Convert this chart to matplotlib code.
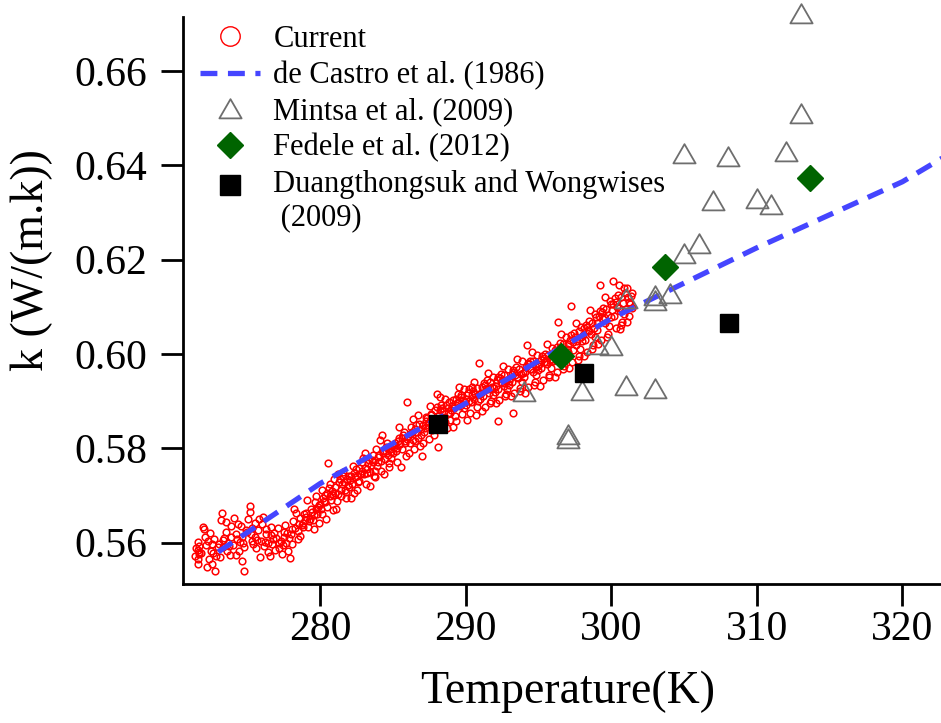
import matplotlib
matplotlib.use("Agg")
import matplotlib.pyplot as plt
from matplotlib.lines import Line2D
from matplotlib.path import Path
from matplotlib.legend_handler import HandlerLine2D

plt.rcParams['font.family'] = ['Liberation Serif', 'DejaVu Serif']

# ---------------- data ----------------
current_T = [
    271.6, 271.6, 271.65, 271.6, 271.65, 271.6, 271.4, 271.45, 271.95, 272.0, 271.8,
    272.1, 272.3, 272.5, 272.6, 272.8, 272.55, 272.85, 272.2, 272.4, 272.7, 272.95, 272.35,
    273.05, 273.25, 273.2, 273.4, 273.6, 273.8, 273.5, 273.3, 273.7, 273.9, 273.15, 273.55, 273.85,
    274.0, 274.2, 274.35, 274.5, 274.6, 274.75, 274.9, 274.1, 274.45, 274.65, 274.8, 274.25, 274.55,
    275.0, 275.15, 275.2, 275.35, 275.5, 275.6, 275.75, 275.9, 275.05, 275.4, 275.55, 275.8, 275.3, 275.95,
    276.0, 276.15, 276.3, 276.45, 276.6, 276.75, 276.9, 276.1, 276.4, 276.55, 276.85, 276.25, 276.7,
    277.0, 277.2, 277.35, 277.5, 277.65, 277.8, 277.95, 277.1, 277.45, 277.6, 277.85, 277.3, 277.75,
    278.0, 278.15, 278.3, 278.45, 278.6, 278.75, 278.9, 278.05, 278.35, 278.5, 278.8, 278.2, 278.65, 278.95,
    279.0, 279.2, 279.35, 279.5, 279.65, 279.8, 279.95, 279.1, 279.45, 279.6, 279.85, 279.3, 279.75,
    280.0, 280.15, 280.3, 280.45, 280.55, 280.6, 280.75, 280.9, 280.1, 280.4, 280.7, 280.85, 280.25, 280.95,
    281.0, 281.15, 281.3, 281.45, 281.6, 281.75, 281.9, 281.1, 281.4, 281.55, 281.85, 281.25, 281.7,
    282.0, 282.15, 282.3, 282.45, 282.6, 282.75, 282.9, 282.1, 282.4, 282.55, 282.85, 282.25, 282.7, 282.95,
    283.0, 283.15, 283.3, 283.45, 283.6, 283.75, 283.9, 283.1, 283.4, 283.55, 283.85, 283.25, 283.7,
    284.0, 284.15, 284.3, 284.45, 284.6, 284.75, 284.9, 284.1, 284.4, 284.55, 284.85, 284.25, 284.7, 284.95,
    285.0, 285.15, 285.3, 285.45, 285.6, 285.75, 285.9, 285.1, 285.4, 285.55, 285.85, 285.25, 285.7,
    286.0, 286.15, 286.3, 286.45, 286.6, 286.75, 286.9, 286.1, 286.4, 286.55, 286.85, 286.25, 286.7, 286.95, 286.05,
    287.0, 287.15, 287.3, 287.45, 287.6, 287.75, 287.9, 287.1, 287.4, 287.55, 287.85, 287.25, 287.7, 287.95,
    288.0, 288.15, 288.3, 288.45, 288.6, 288.75, 288.9, 288.1, 288.4, 288.55, 288.85, 288.25, 288.7, 288.05,
    289.0, 289.15, 289.3, 289.45, 289.6, 289.75, 289.9, 289.1, 289.4, 289.55, 289.85, 289.25, 289.7, 289.95,
    290.0, 290.15, 290.3, 290.45, 290.6, 290.75, 290.9, 290.1, 290.4, 290.55, 290.85, 290.25, 290.7, 290.95, 290.35,
    291.0, 291.15, 291.3, 291.45, 291.6, 291.75, 291.9, 291.1, 291.4, 291.55, 291.85, 291.25, 291.7, 291.95,
    292.0, 292.15, 292.3, 292.45, 292.6, 292.75, 292.9, 292.1, 292.4, 292.55, 292.85, 292.25, 292.7, 292.95, 292.24,
    293.0, 293.15, 293.3, 293.45, 293.6, 293.75, 293.9, 293.1, 293.4, 293.55, 293.85, 293.25, 293.7, 293.95, 293.27,
    294.0, 294.15, 294.3, 294.45, 294.6, 294.75, 294.9, 294.1, 294.4, 294.55, 294.85, 294.25, 294.7, 294.95, 294.2,
    295.0, 295.15, 295.3, 295.45, 295.6, 295.75, 295.9, 295.1, 295.4, 295.55, 295.85, 295.25, 295.7, 295.95,
    296.0, 296.15, 296.3, 296.45, 296.6, 296.75, 296.9, 296.1, 296.4, 296.55, 296.85, 296.25, 296.7, 296.95, 296.36,
    297.0, 297.15, 297.3, 297.45, 297.6, 297.75, 297.9, 297.1, 297.4, 297.55, 297.85, 297.25, 297.7, 297.95, 297.2,
    298.0, 298.15, 298.3, 298.45, 298.6, 298.75, 298.9, 298.1, 298.4, 298.55, 298.85, 298.25, 298.7, 298.95,
    299.0, 299.15, 299.3, 299.45, 299.6, 299.75, 299.9, 299.1, 299.4, 299.55, 299.85, 299.25, 299.7, 299.95, 299.2,
    300.0, 300.15, 300.3, 300.45, 300.6, 300.75, 300.9, 300.1, 300.4, 300.55, 300.85, 300.25, 300.7, 300.95, 300.6,
    301.0, 301.15, 301.3, 301.1, 301.25, 301.4, 301.05, 301.2,
    # denser core
    271.7, 272.15, 272.65, 273.35, 273.75, 274.3, 274.7, 275.25, 275.65, 276.2, 276.65, 277.15,
    277.55, 278.1, 278.55, 278.85,
    279.05, 279.25, 279.55, 279.7, 279.9,
    280.05, 280.2, 280.35, 280.5, 280.65, 280.8,
    281.05, 281.2, 281.35, 281.5, 281.65, 281.8, 281.95,
    282.05, 282.2, 282.35, 282.5, 282.65, 282.8,
    283.05, 283.2, 283.35, 283.5, 283.65, 283.8, 283.95,
    284.05, 284.2, 284.35, 284.5, 284.65, 284.8,
    285.05, 285.2, 285.35, 285.5, 285.65, 285.8, 285.95,
    286.2, 286.35, 286.5, 286.65, 286.8,
    287.05, 287.2, 287.35, 287.5, 287.65, 287.8,
    288.2, 288.35, 288.5, 288.65, 288.8, 288.95,
    289.05, 289.2, 289.35, 289.5, 289.65, 289.8,
    290.05, 290.2, 290.5, 290.65, 290.8,
    291.05, 291.2, 291.35, 291.5, 291.65, 291.8,
    292.05, 292.2, 292.35, 292.5, 292.65, 292.8,
    293.05, 293.2, 293.35, 293.5, 293.65, 293.8,
    294.05, 294.35, 294.5, 294.65, 294.8,
    295.05, 295.2, 295.35, 295.5, 295.65, 295.8,
    296.05, 296.2, 296.5, 296.65, 296.8,
    297.05, 297.35, 297.5, 297.65, 297.8,
    298.05, 298.2, 298.35, 298.5, 298.65, 298.8,
    299.05, 299.35, 299.5, 299.65, 299.8,
    300.05, 300.2, 300.35, 300.5, 300.65, 300.8,
    301.35, 301.45,
]
current_k = [
    0.5555, 0.5566, 0.5575, 0.5584, 0.5593, 0.5601, 0.5571, 0.5589, 0.5633, 0.5628, 0.5577,
    0.5612, 0.5604, 0.5583, 0.5555, 0.5540, 0.5596, 0.5571, 0.5548, 0.5620, 0.5608, 0.5590, 0.5565,
    0.5597, 0.5663, 0.5648, 0.5610, 0.5582, 0.5573, 0.5622, 0.5590, 0.5600, 0.5635, 0.5569, 0.5644, 0.5612,
    0.5595, 0.5618, 0.5639, 0.5601, 0.5560, 0.5540, 0.5627, 0.5651, 0.5583, 0.5612, 0.5590, 0.5573, 0.5635,
    0.5622, 0.5678, 0.5665, 0.5604, 0.5641, 0.5588, 0.5627, 0.5570, 0.5650, 0.5596, 0.5612, 0.5650, 0.5630, 0.5603,
    0.5640, 0.5592, 0.5618, 0.5580, 0.5633, 0.5607, 0.5585, 0.5655, 0.5600, 0.5571, 0.5620, 0.5628, 0.5596,
    0.5610, 0.5589, 0.5575, 0.5622, 0.5600, 0.5583, 0.5567, 0.5630, 0.5594, 0.5638, 0.5610, 0.5603, 0.5621,
    0.5618, 0.5645, 0.5630, 0.5608, 0.5652, 0.5637, 0.5660, 0.5596, 0.5662, 0.5625, 0.5641, 0.5670, 0.5614, 0.5648,
    0.5655, 0.5633, 0.5672, 0.5648, 0.5685, 0.5660, 0.5642, 0.5690, 0.5665, 0.5628, 0.5675, 0.5650, 0.5698,
    0.5682, 0.5660, 0.5700, 0.5676, 0.5768, 0.5715, 0.5690, 0.5668, 0.5712, 0.5650, 0.5725, 0.5700, 0.5688, 0.5735,
    0.5705, 0.5688, 0.5728, 0.5712, 0.5740, 0.5695, 0.5722, 0.5672, 0.5698, 0.5750, 0.5735, 0.5745, 0.5712,
    0.5718, 0.5740, 0.5705, 0.5755, 0.5728, 0.5746, 0.5770, 0.5695, 0.5738, 0.5712, 0.5752, 0.5762, 0.5730, 0.5780,
    0.5745, 0.5725, 0.5768, 0.5750, 0.5785, 0.5738, 0.5762, 0.5790, 0.5720, 0.5775, 0.5798, 0.5755, 0.5742,
    0.5770, 0.5752, 0.5795, 0.5778, 0.5810, 0.5760, 0.5792, 0.5818, 0.5745, 0.5802, 0.5780, 0.5827, 0.5768, 0.5805,
    0.5790, 0.5812, 0.5770, 0.5822, 0.5798, 0.5835, 0.5783, 0.5806, 0.5845, 0.5760, 0.5815, 0.5800, 0.5828,
    0.5899, 0.5812, 0.5835, 0.5798, 0.5850, 0.5822, 0.5840, 0.5790, 0.5862, 0.5815, 0.5805, 0.5845, 0.5870, 0.5828, 0.5825,
    0.5784, 0.5835, 0.5858, 0.5820, 0.5872, 0.5845, 0.5880, 0.5812, 0.5850, 0.5890, 0.5828, 0.5866, 0.5838, 0.5860,
    0.5915, 0.5870, 0.5892, 0.5840, 0.5905, 0.5875, 0.5860, 0.5802, 0.5885, 0.5855, 0.5898, 0.5908, 0.5842, 0.5888,
    0.5880, 0.5902, 0.5858, 0.5915, 0.5890, 0.5872, 0.5925, 0.5845, 0.5895, 0.5930, 0.5885, 0.5868, 0.5908, 0.5898,
    0.5892, 0.5918, 0.5875, 0.5930, 0.5905, 0.5888, 0.5981, 0.5860, 0.5912, 0.5940, 0.5900, 0.5925, 0.5870, 0.5915, 0.5898,
    0.5905, 0.5930, 0.5888, 0.5945, 0.5918, 0.5900, 0.5952, 0.5878, 0.5925, 0.5960, 0.5912, 0.5938, 0.5895, 0.5928,
    0.5920, 0.5945, 0.5902, 0.5958, 0.5932, 0.5915, 0.5968, 0.5895, 0.5940, 0.5975, 0.5925, 0.5950, 0.5910, 0.5942, 0.5857,
    0.5935, 0.5958, 0.5918, 0.5972, 0.5948, 0.5928, 0.5985, 0.5910, 0.5955, 0.5990, 0.5940, 0.5965, 0.5922, 0.5960, 0.5875,
    0.5950, 0.5972, 0.5930, 0.5985, 0.5962, 0.5940, 0.5998, 0.5918, 0.5968, 0.6005, 0.5955, 0.5980, 0.5935, 0.5975, 0.6019,
    0.5965, 0.5988, 0.5945, 0.6000, 0.5978, 0.5955, 0.6012, 0.5932, 0.5982, 0.6020, 0.5970, 0.5995, 0.5950, 0.5990,
    0.5985, 0.6008, 0.5962, 0.6022, 0.5998, 0.5975, 0.6035, 0.5950, 0.6002, 0.6042, 0.5990, 0.6015, 0.5968, 0.6010, 0.6068,
    0.6005, 0.6030, 0.5982, 0.6045, 0.6018, 0.5995, 0.6058, 0.5970, 0.6025, 0.6065, 0.6010, 0.6040, 0.5988, 0.6035, 0.6102,
    0.6028, 0.6055, 0.6005, 0.6070, 0.6042, 0.6018, 0.6085, 0.5995, 0.6050, 0.6092, 0.6035, 0.6062, 0.6010, 0.6078,
    0.6050, 0.6080, 0.6030, 0.6098, 0.6065, 0.6042, 0.6112, 0.6020, 0.6075, 0.6120, 0.6060, 0.6090, 0.6035, 0.6105, 0.6147,
    0.6078, 0.6105, 0.6055, 0.6125, 0.6090, 0.6068, 0.6140, 0.6155, 0.6100, 0.6145, 0.6085, 0.6118, 0.6062, 0.6130, 0.6053,
    0.6095, 0.6120, 0.6105, 0.6140, 0.6080, 0.6130, 0.6068, 0.6110,
    # denser core
    0.5580, 0.5595, 0.5578, 0.5605, 0.5592, 0.5608, 0.5598, 0.5618, 0.5605, 0.5602, 0.5615, 0.5598,
    0.5612, 0.5628, 0.5640, 0.5632,
    0.5662, 0.5645, 0.5658, 0.5670, 0.5680,
    0.5672, 0.5695, 0.5685, 0.5705, 0.5698, 0.5710,
    0.5718, 0.5702, 0.5735, 0.5725, 0.5728, 0.5708, 0.5740,
    0.5732, 0.5725, 0.5748, 0.5740, 0.5758, 0.5745,
    0.5758, 0.5748, 0.5775, 0.5765, 0.5770, 0.5752, 0.5782,
    0.5785, 0.5772, 0.5790, 0.5795, 0.5785, 0.5798,
    0.5802, 0.5795, 0.5815, 0.5808, 0.5822, 0.5812, 0.5820,
    0.5830, 0.5818, 0.5840, 0.5835, 0.5852,
    0.5850, 0.5842, 0.5865, 0.5855, 0.5870, 0.5862,
    0.5880, 0.5865, 0.5878, 0.5892, 0.5885, 0.5875,
    0.5890, 0.5885, 0.5905, 0.5898, 0.5912, 0.5902,
    0.5905, 0.5900, 0.5922, 0.5915, 0.5928,
    0.5918, 0.5910, 0.5935, 0.5925, 0.5940, 0.5930,
    0.5932, 0.5925, 0.5948, 0.5938, 0.5955, 0.5945,
    0.5948, 0.5940, 0.5962, 0.5952, 0.5968, 0.5958,
    0.5962, 0.5978, 0.5968, 0.5985, 0.5972,
    0.5978, 0.5970, 0.5992, 0.5982, 0.5998, 0.5988,
    0.5995, 0.5988, 0.6012, 0.6020, 0.6005,
    0.6020, 0.6008, 0.6035, 0.6028, 0.6048,
    0.6040, 0.6030, 0.6058, 0.6048, 0.6065, 0.6055,
    0.6065, 0.6088, 0.6078, 0.6095, 0.6082,
    0.6092, 0.6080, 0.6110, 0.6098, 0.6120, 0.6108,
    0.6122, 0.6098,
]
assert len(current_T) == len(current_k)

castro_T = [273.0, 280.0, 290.0, 300.0, 310.0, 320.0, 323.0]
castro_k = [0.5580, 0.5725, 0.5895, 0.6075, 0.6225, 0.6365, 0.6420]

mintsa_T = [294.0, 297.0, 297.0, 298.0, 299.0, 300.0, 301.0, 301.0, 303.0, 303.0, 303.0,
            304.0, 305.0, 305.0, 306.0, 307.0, 308.0, 310.0, 311.0, 312.0, 313.0, 313.0]
mintsa_k = [0.5919, 0.5827, 0.5820, 0.5922, 0.6018, 0.6016, 0.5931, 0.6117, 0.5926, 0.6122, 0.6113,
            0.6126, 0.6212, 0.6424, 0.6233, 0.6325, 0.6418, 0.6329, 0.6315, 0.6429, 0.6509, 0.6720]

fedele_T = [296.55, 303.7, 313.65]
fedele_k = [0.5996, 0.6185, 0.6373]

duang_T = [288.1, 298.1, 308.1]
duang_k = [0.5852, 0.5960, 0.6065]

labels = ['Current', 'de Castro et al. (1986)', 'Mintsa et al. (2009)',
          'Fedele et al. (2012)', 'Duangthongsuk and Wongwises\n (2009)']
xticks = [280, 290, 300, 310, 320]
yticks = [0.56, 0.58, 0.60, 0.62, 0.64, 0.66]

# ---------------- figure ----------------
W, H = 941, 723
fig = plt.figure(figsize=(W / 100, H / 100), dpi=100)
ax = fig.add_axes([183.3 / W, 1 - 584 / H, (W - 183.3) / W, (584 - 16.7) / H])
ax.set_xlim(270.6, 322.65)
ax.set_ylim(0.5512, 0.6715)

red = '#FF0000'
blue = '#4545FF'
grey = '#6E6E6E'
green = '#006400'

tri = Path([(-1, -0.8), (1, -0.8), (0, 0.93), (-1, -0.8)],
           [Path.MOVETO, Path.LINETO, Path.LINETO, Path.CLOSEPOLY])

ax.plot(current_T, current_k, linestyle='none', marker='o', ms=4.8, mfc='none',
        mec=red, mew=1.1, zorder=2)
ax.plot(castro_T, castro_k, linestyle=(0, (3.2, 2.0)), color=blue, lw=3.8, zorder=3)
ax.plot(mintsa_T, mintsa_k, linestyle='none', marker=tri, ms=16, mfc='none',
        mec=grey, mew=1.3, zorder=4, clip_on=False)
ax.plot(fedele_T, fedele_k, linestyle='none', marker='D', ms=13.5, color=green,
        mec=green, zorder=5)
ax.plot(duang_T, duang_k, linestyle='none', marker='s', ms=13.5, color='black',
        zorder=5)

for s in ['top', 'right']:
    ax.spines[s].set_visible(False)
for s in ['left', 'bottom']:
    ax.spines[s].set_linewidth(2.0)

ax.set_xticks(xticks)
ax.set_xticklabels([str(t) for t in xticks])
ax.set_yticks(yticks)
ax.set_yticklabels([f'{t:.2f}' for t in yticks])
ax.tick_params(axis='both', direction='out', length=16, width=2.0, labelsize=30)
ax.tick_params(axis='x', pad=3)
ax.tick_params(axis='y', pad=10)

fig.text(568 / W, 1 - 692 / H, 'Temperature(K)', fontsize=33, ha='center', va='center')
fig.text(32 / W, 1 - 260 / H, 'k (W/(m.k))', fontsize=33, ha='center', va='center',
         rotation=90)


class TopLineHandler(HandlerLine2D):
    """Place the marker next to the first line of a two-line label."""
    def __init__(self, dy, **kw):
        super().__init__(**kw)
        self.dy = dy

    def create_artists(self, legend, orig_handle, xdescent, ydescent, width, height,
                       fontsize, trans):
        return super().create_artists(legend, orig_handle, xdescent, ydescent - 2 * self.dy,
                                      width, height, fontsize, trans)


handles = [
    Line2D([], [], linestyle='none', marker='o', ms=14, mfc='none', mec=red, mew=1.0),
    Line2D([], [], linestyle=(0, (3.2, 2.0)), color=blue, lw=3.8),
    Line2D([], [], linestyle='none', marker=tri, ms=16, mfc='none', mec=grey, mew=1.3),
    Line2D([], [], linestyle='none', marker='D', ms=13.5, color=green),
    Line2D([], [], linestyle='none', marker='s', ms=14, color='black'),
]
leg = ax.legend(handles, labels, loc='upper left',
                bbox_to_anchor=(200 / W, 1 - 25 / H), bbox_transform=fig.transFigure,
                frameon=False, fontsize=22, handlelength=1.95, handletextpad=0.45,
                labelspacing=0.23, borderpad=0.0, borderaxespad=0.0,
                handler_map={handles[4]: TopLineHandler(12.0)})

fig.savefig('out.png', dpi=100)
